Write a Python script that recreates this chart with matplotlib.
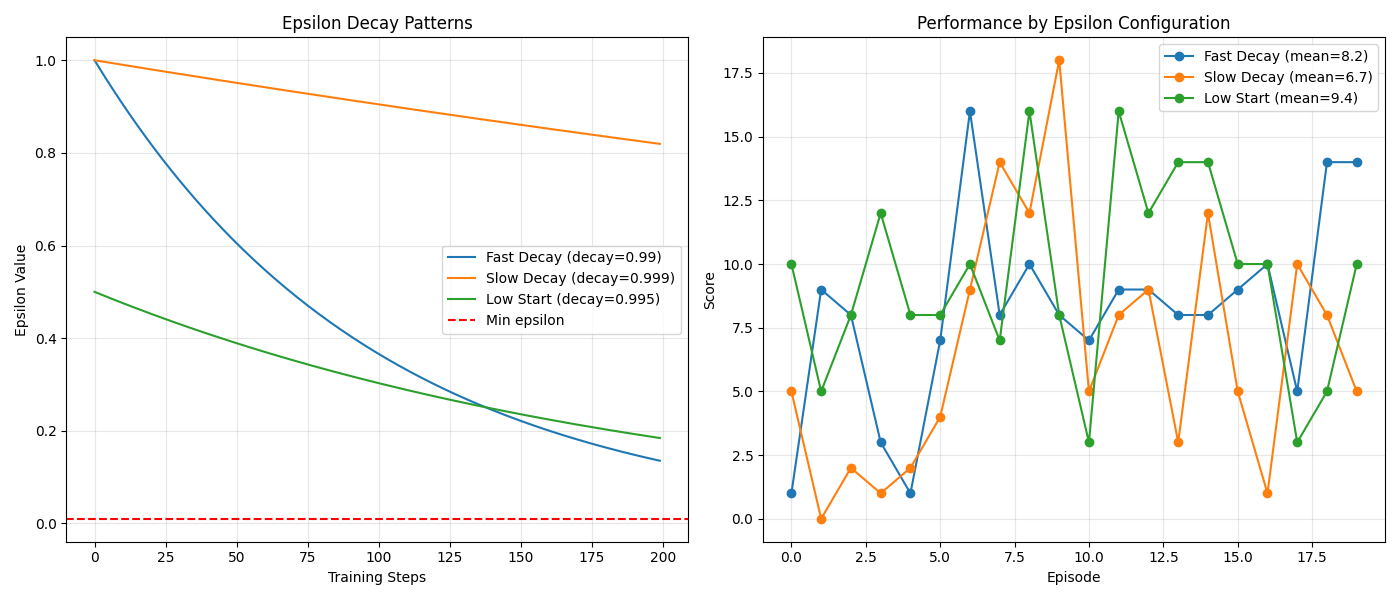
import numpy as np
import matplotlib
matplotlib.use("Agg")
import matplotlib.pyplot as plt

# epsilon schedules as given in the legend: start value and decay rate
schedule_names = ["Fast Decay", "Slow Decay", "Low Start"]
schedule_start = [1.0, 1.0, 0.5]
schedule_decay = [0.99, 0.999, 0.995]
n_steps = 200
min_epsilon = 0.01

episodes = list(range(20))
fast_scores = [1, 9, 8, 3, 1, 7, 16, 8, 10, 8, 7, 9, 9, 8, 8, 9, 10, 5, 14, 14]
slow_scores = [5, 0, 2, 1, 2, 4, 9, 14, 12, 18, 5, 8, 9, 3, 12, 5, 1, 10, 8, 5]
low_scores = [10, 5, 8, 12, 8, 8, 10, 7, 16, 8, 3, 16, 12, 14, 14, 10, 10, 3, 5, 10]

fig, (ax1, ax2) = plt.subplots(1, 2, figsize=(14, 6), dpi=100)

steps = np.arange(n_steps)
for name, start, decay in zip(schedule_names, schedule_start, schedule_decay):
    ax1.plot(steps, start * decay ** steps, label=f"{name} (decay={decay})")
ax1.axhline(min_epsilon, color="r", linestyle="--", label="Min epsilon")
ax1.set_title("Epsilon Decay Patterns")
ax1.set_xlabel("Training Steps")
ax1.set_ylabel("Epsilon Value")
ax1.legend()
ax1.grid(True, alpha=0.3)

for name, scores in zip(schedule_names, [fast_scores, slow_scores, low_scores]):
    ax2.plot(episodes, scores, "o-", label=f"{name} (mean={np.mean(scores):.1f})")
ax2.set_title("Performance by Epsilon Configuration")
ax2.set_xlabel("Episode")
ax2.set_ylabel("Score")
ax2.legend()
ax2.grid(True, alpha=0.3)

plt.tight_layout()
plt.savefig("out.png")
